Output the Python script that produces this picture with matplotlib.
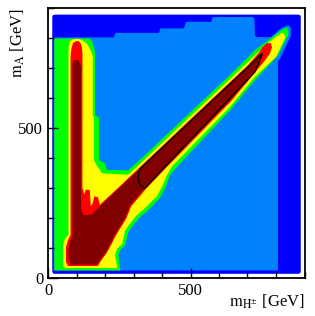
import matplotlib
matplotlib.use("Agg")
import matplotlib.pyplot as plt
from matplotlib.ticker import MultipleLocator, FixedLocator

plt.rcParams['font.family'] = ['Liberation Serif', 'DejaVu Serif']
plt.rcParams['mathtext.fontset'] = 'stix'

# ---- data: region boundaries (m_H+- , m_A) in GeV ----
rim_mh = [23, 879, 885, 887, 887, 885, 879, 23, 17, 15, 15, 17]
rim_ma = [15, 15, 17, 23, 871, 877, 879, 879, 877, 871, 23, 17]

lblue_mh = [20, 807, 807, 816, 852, 852, 846, 836, 818, 782, 731, 726, 724, 719,
            578, 572, 484, 477, 395, 389, 236, 231, 20]
lblue_ma = [26, 26, 725, 735, 808, 834, 842, 842, 834, 804, 804, 808, 866, 871,
            871, 855, 855, 833, 833, 818, 818, 803, 803]

green_mh = [22, 253, 253, 247, 253, 270, 282, 294, 323, 346, 393, 411, 428, 449,
            639, 726, 808, 843, 844, 838, 820, 773, 726, 700, 639, 500, 323, 281,
            207, 200, 179, 179, 165, 165, 160, 155, 148, 22]
green_ma = [26, 26, 33, 78, 94, 111, 155, 172, 205, 222, 268, 301, 344, 368,
            560, 660, 744, 811, 828, 836, 828, 794, 760, 735, 678, 554, 395, 360,
            361, 383, 394, 535, 545, 755, 772, 790, 799, 799]

yellow_mh = [60, 242, 242, 235, 242, 260, 270, 284, 312, 337, 382, 400, 418, 434,
             639, 726, 800, 832, 830, 822, 815, 773, 726, 639, 500, 323, 281, 190,
             170, 161, 161, 157, 157, 152, 145, 136, 118, 106, 88, 76, 72, 72, 60,
             53, 53]
yellow_ma = [34, 34, 41, 78, 98, 114, 158, 178, 211, 231, 274, 305, 345, 372,
             572, 672, 738, 801, 812, 819, 815, 786, 743, 665, 541, 382, 345, 350,
             378, 394, 535, 545, 740, 755, 768, 783, 795, 798, 797, 790, 770, 144,
             134, 111, 44]

red_mh = [70, 175, 186, 207, 222, 236, 250, 274, 292, 343, 425, 437, 642, 730,
          760, 778, 786, 782, 768, 752, 740, 700, 500, 323, 250, 182, 175, 162,
          157, 150, 147, 133, 127, 121, 121, 119, 115, 108, 100, 88, 82, 79, 79,
          70, 63, 63]
red_ma = [41, 41, 58, 86, 112, 139, 161, 198, 240, 297, 379, 390, 590, 690,
          725, 748, 770, 784, 784, 770, 752, 709, 530, 371, 305, 245, 271, 273,
          250, 240, 294, 296, 280, 300, 750, 770, 782, 790, 791, 785, 765, 740,
          144, 128, 104, 54]

dred_mh = [81, 172, 182, 203, 218, 232, 246, 270, 288, 340, 422, 434, 639, 726,
           740, 750, 756, 748, 700, 500, 323, 250, 182, 155, 140, 126, 119, 116,
           116, 112, 106, 89, 86, 86, 77, 72, 72]
dred_ma = [46, 46, 61, 88, 114, 141, 164, 201, 244, 301, 383, 394, 594, 694,
           712, 735, 752, 749, 705, 526, 367, 301, 240, 214, 211, 211, 220, 240,
           705, 717, 728, 727, 712, 144, 121, 94, 61]

best_mh = [323, 316, 319, 326, 340, 422, 726, 745, 752, 745, 700, 500, 400, 323]
best_ma = [365, 344, 321, 308, 301, 383, 688, 730, 749, 745, 703, 524, 434, 365]

x_major = [0, 500]
y_major = [0, 500]
x_label = r'$\mathrm{m_{H^{\pm}}}$ [GeV]'
y_label = r'$\mathrm{m_{A}}$ [GeV]'

colors = ['#0000ff', '#0082ff', '#00ff00', '#ffff00', '#ff0000', '#800000']

fig = plt.figure(figsize=(3.15, 3.16), dpi=100)
ax = fig.add_axes([48/315, 1-278.3/316, 256.5/315, 270/316])
ax.set_xlim(0, 900)
ax.set_ylim(0, 900)

layers = [(rim_mh, rim_ma), (lblue_mh, lblue_ma), (green_mh, green_ma),
          (yellow_mh, yellow_ma), (red_mh, red_ma), (dred_mh, dred_ma)]
for (xs, ys), c in zip(layers, colors):
    ax.fill(xs, ys, color=c, lw=0, zorder=1)
ax.plot(best_mh, best_ma, color='black', lw=0.9, zorder=2)

ax.xaxis.set_major_locator(FixedLocator(x_major))
ax.yaxis.set_major_locator(FixedLocator(y_major))
ax.xaxis.set_minor_locator(MultipleLocator(100))
ax.yaxis.set_minor_locator(MultipleLocator(100))
ax.tick_params(which='both', direction='in', top=False, right=False,
               labelsize=12, width=1.0, color='black')
ax.tick_params(which='major', length=7.5, pad=3.5)
ax.tick_params(which='minor', length=4)
for s in ax.spines.values():
    s.set_linewidth(1.3)
    s.set_zorder(5)

fig.text(305/315, 1-307/316, x_label, ha='right', va='baseline', fontsize=12)
fig.text(18/315, 1-8.5/316, y_label, rotation=90, ha='center', va='top',
         fontsize=12)

fig.savefig('out.png', dpi=100)
